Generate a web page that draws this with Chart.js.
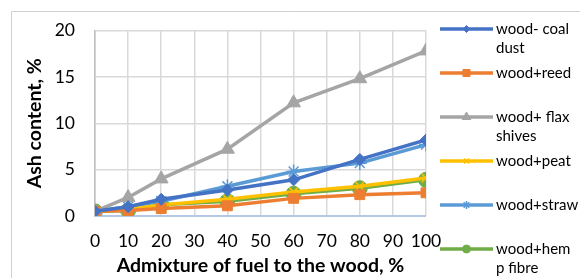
<!DOCTYPE html>
<html>
<head>
<meta charset="utf-8">
<script src="https://cdn.jsdelivr.net/npm/chart.js@4.4.1/dist/chart.umd.min.js"></script>
<style>
  html, body { margin: 0; padding: 0; background: #fff; }
  #wrap { width: 580px; height: 278px; position: relative; }
</style>
</head>
<body>
<div id="wrap"><canvas id="ash" width="580" height="278"></canvas></div>
<script>
/* --------------- Data --------------------- */
const admixture = [0, 10, 20, 40, 60, 80, 100];
const coalDust = [0.5, 1.0, 1.8, 2.8, 3.9, 6.1, 8.2];
const reed = [0.5, 0.6, 0.8, 1.1, 1.9, 2.3, 2.5];
const flaxShives = [0.5, 2.0, 4.0, 7.2, 12.2, 14.8, 17.8];
const peat = [0.5, 0.7, 1.2, 1.8, 2.6, 3.2, 4.1];
const straw = [0.5, 1.0, 1.6, 3.2, 4.8, 5.7, 7.7];
const hempFibre = [0.5, 0.6, 1.2, 1.6, 2.4, 3.0, 3.9];

const seriesNames = [
  ["wood- coal", "dust"],
  ["wood+reed"],
  ["wood+ flax", "shives"],
  ["wood+peat"],
  ["wood+straw"],
  ["wood+hem", "p fibre"],
];
const xTicks = [0, 10, 20, 30, 40, 50, 60, 70, 80, 90, 100];
const yTicks = [0, 5, 10, 15, 20];

const FONT = "Lato";

const toPoints = (ys) => admixture.map((x, i) => ({ x: x, y: ys[i] }));

// legendRadius = marker size used in the legend sample
const mkSet = (name, ys, color, style, radius, legendRadius) => ({
  label: name.join(" "),
  legendLines: name,
  legendRadius: legendRadius,
  data: toPoints(ys),
  borderColor: color,
  backgroundColor: color,
  pointBackgroundColor: color,
  borderWidth: 3.5,
  pointStyle: style,
  pointRadius: radius,
  pointBorderWidth: style === "star" || style === "crossRot" ? 1.5 : 1,
  pointBorderColor: color,
  tension: 0,
});

/* --------------- Frame + legend drawn around the chart --------------------- */
const framePlugin = {
  id: "frame",
  beforeDraw(chart) {
    const ctx = chart.ctx;
    ctx.save();
    ctx.strokeStyle = "#d0d0d0";
    ctx.lineWidth = 1;
    ctx.beginPath();
    ctx.moveTo(11.5, 278);
    ctx.lineTo(11.5, 11.5);
    ctx.lineTo(580, 11.5);
    ctx.stroke();
    ctx.restore();
  },
  afterDraw(chart) {
    const ctx = chart.ctx;
    const x0 = 440, x1 = 493, tx = 496;
    const rowY = [29, 73, 117, 161, 205, 249];
    ctx.save();
    chart.data.datasets.forEach((ds, i) => {
      const y = rowY[i];
      ctx.strokeStyle = ds.borderColor;
      ctx.lineWidth = 3.5;
      ctx.beginPath();
      ctx.moveTo(x0, y);
      ctx.lineTo(x1, y);
      ctx.stroke();
      ctx.fillStyle = ds.borderColor;
      ctx.strokeStyle = ds.borderColor;
      ctx.lineWidth = ds.pointBorderWidth;
      Chart.helpers.drawPoint(ctx, {
        pointStyle: ds.pointStyle,
        radius: ds.legendRadius,
        borderWidth: ds.pointBorderWidth,
      }, (x0 + x1) / 2, y);
      ctx.fillStyle = "#000";
      ctx.font = "15px " + FONT;
      ctx.textBaseline = "middle";
      ds.legendLines.forEach((t, k) => ctx.fillText(t, tx, y + k * 19));
    });
    ctx.restore();
  },
};

/* --------------- Chart --------------------- */
const ashChart = new Chart(document.getElementById("ash"), {
  type: "line",
  data: {
    datasets: [
      mkSet(seriesNames[0], coalDust, "#4472C4", "rectRot", 6, 3.5),
      mkSet(seriesNames[1], reed, "#ED7D31", "rect", 7, 5),
      mkSet(seriesNames[2], flaxShives, "#A5A5A5", "triangle", 8, 5),
      mkSet(seriesNames[3], peat, "#FFC000", "crossRot", 6, 3.5),
      mkSet(seriesNames[4], straw, "#5B9BD5", "star", 7, 4),
      mkSet(seriesNames[5], hempFibre, "#70AD47", "circle", 7.5, 4),
    ],
  },
  plugins: [framePlugin],
  options: {
    responsive: false,
    animation: false,
    layout: { padding: { top: 26, right: 154, left: 0, bottom: 0 } },
    plugins: {
      legend: { display: false },
      tooltip: { enabled: false },
    },
    scales: {
      x: {
        type: "linear",
        min: 0,
        max: 100,
        afterBuildTicks: (axis) => { axis.ticks = xTicks.map((v) => ({ value: v })); },
        afterFit: (axis) => { axis.height = 62; },
        grid: { color: "#d9d9d9", lineWidth: 1.5, drawTicks: false },
        border: { display: false },
        ticks: {
          color: "#000", padding: 15, maxRotation: 0, autoSkip: false,
          font: { family: FONT, size: 17.5 },
        },
        title: {
          display: true,
          text: "Admixture of fuel to the wood, %",
          color: "#000",
          padding: { top: 0, bottom: 1 },
          font: { family: FONT, size: 19.5, weight: "bold" },
        },
      },
      y: {
        min: 0,
        max: 20,
        afterBuildTicks: (axis) => { axis.ticks = yTicks.map((v) => ({ value: v })); },
        afterFit: (axis) => { axis.width = 95; },
        grid: {
          color: (c) => (c.tick && c.tick.value === 0 ? "#b4c7e7" : "#d9d9d9"),
          lineWidth: (c) => (c.tick && c.tick.value === 0 ? 2 : 1.5),
          drawTicks: false,
        },
        border: { display: true, color: "#bfbfbf", width: 1.5 },
        ticks: { color: "#000", padding: 20, font: { family: FONT, size: 17.5 } },
        title: {
          display: true,
          text: "Ash content, %",
          color: "#000",
          padding: { top: 23, bottom: 0 },
          font: { family: FONT, size: 19.5, weight: "bold" },
        },
      },
    },
  },
});
</script>
</body>
</html>
